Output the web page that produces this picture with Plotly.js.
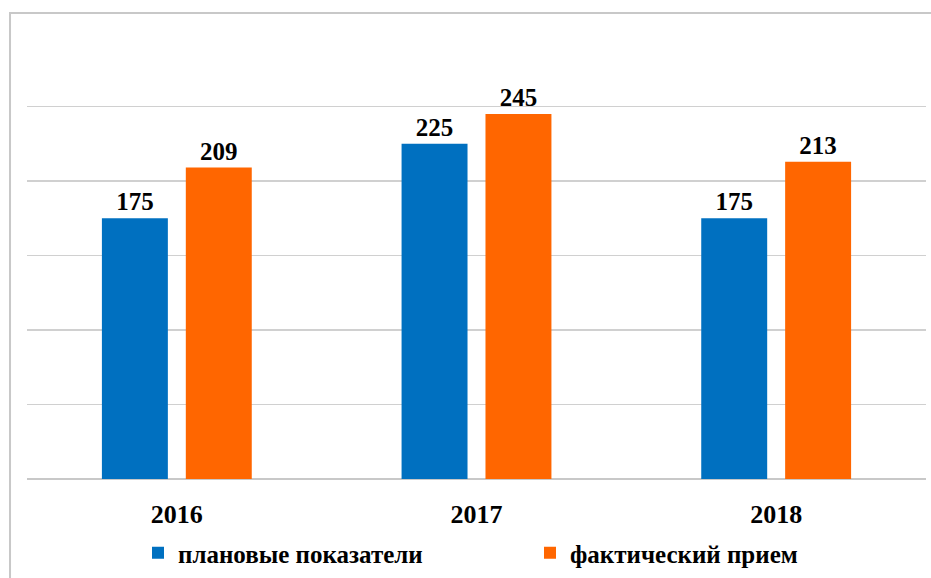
<!DOCTYPE html>
<html><head><meta charset="utf-8">
<script src="https://cdn.plot.ly/plotly-3.0.1.min.js"></script>
<style>html,body{margin:0;padding:0;background:#fff}</style>
</head><body>
<div id="chart" style="width:931px;height:578px"></div>
<script>
const years = ['2016', '2017', '2018'];
const seriesNames = ['плановые показатели', 'фактический прием'];
const planned = [175, 225, 175];
const actual = [209, 245, 213];

const font = '"Liberation Serif", "Times New Roman", serif';
function trace(name, vals, color, leg) {
  return {
    type: 'bar', name: name, x: years, y: vals, legend: leg,
    marker: {color: color},
    text: vals.map(String), textposition: 'outside',
    textfont: {family: font, size: 25, color: '#000', weight: 'bold'},
    cliponaxis: false, hoverinfo: 'skip'
  };
}
const data = [
  trace(seriesNames[0], planned, '#0070C0', 'legend'),
  trace(seriesNames[1], actual, '#FF6600', 'legend2')
];
const legendFont = {family: font, size: 25, weight: 'bold', color: '#000'};
const layout = {
  width: 931, height: 578,
  margin: {l: 27, r: 5, t: 32, b: 99},
  paper_bgcolor: '#fff', plot_bgcolor: '#fff',
  barmode: 'group', bargap: 0.44, bargroupgap: 0.214,
  font: {family: font, color: '#000'},
  xaxis: {
    type: 'category', showgrid: false, showline: false, ticks: '',
    tickfont: {family: font, size: 26, weight: 'bold', color: '#000'},
    ticklabelstandoff: 17
  },
  yaxis: {
    range: [0, 300], dtick: 50, showticklabels: false, showgrid: true,
    gridcolor: '#d0d0d0', gridwidth: 1.5, zeroline: true, zerolinecolor: '#c8c8c8', zerolinewidth: 2,
    showline: false, ticks: ''
  },
  showlegend: true,
  legend: {
    orientation: 'h', xref: 'container', x: 138/931, xanchor: 'left', yref: 'container', y: 25/578, yanchor: 'middle',
    bgcolor: 'rgba(0,0,0,0)', font: legendFont, itemclick: false
  },
  legend2: {
    orientation: 'h', xref: 'container', x: 530/931, xanchor: 'left', yref: 'container', y: 25/578, yanchor: 'middle',
    bgcolor: 'rgba(0,0,0,0)', font: legendFont, itemclick: false
  },
  shapes: [{
    type: 'rect', xref: 'paper', yref: 'paper', layer: 'below',
    x0: -17/900, x1: 1.1, y0: 1 + 19/447, y1: -0.3,
    line: {color: '#c8c8c8', width: 2}
  }]
};
Plotly.newPlot('chart', data, layout, {displayModeBar: false, staticPlot: true});
</script>
</body></html>
